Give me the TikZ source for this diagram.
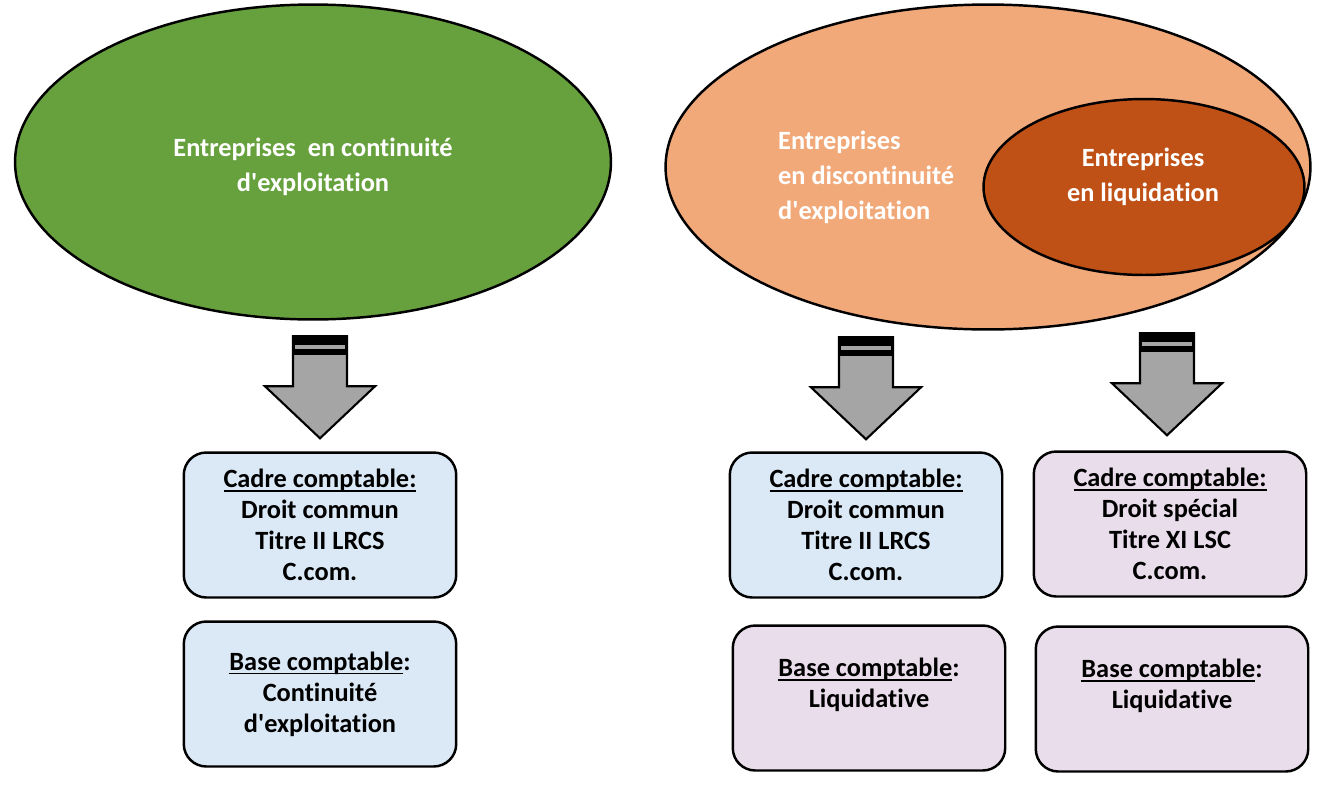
\documentclass[tikz,border=0pt]{standalone}
\usepackage{fontspec}
\setmainfont{Carlito}[Ligatures={TeX,NoCommon}]
\usepackage{tikz}
\usetikzlibrary{shapes.geometric,positioning}
\definecolor{vertcont}{HTML}{67A13E}
\definecolor{orangeclair}{HTML}{F1A97A}
\definecolor{orangefonce}{HTML}{BF5016}
\definecolor{bleuclair}{HTML}{DBE8F5}
\definecolor{roseclair}{HTML}{EADDEB}
\definecolor{grisfleche}{HTML}{A5A5A5}
\newcommand\souligne[1]{\setbox0\hbox{#1}\rlap{\rule[-2.2pt]{\wd0}{0.8pt}}\box0}
\newcommand\apos{\textquotesingle}
\tikzset{
    myellipse/.style={ellipse, draw=black, line width=1.4pt, inner sep=0pt},
    mytext/.style={text=white, font=\fontsize{15}{20}\selectfont\bfseries},
    mybox/.style={rectangle, rounded corners=0.45cm, draw=black, line width=1.4pt,
      minimum width=5.45cm, minimum height=2.9cm, align=center,
      font=\fontsize{15}{17.6}\selectfont\bfseries},
    bigarrow/.pic={
      \filldraw[fill=grisfleche, line width=1.2pt, line join=miter]
        (-27,-102) -- (-27,-52) -- (-55,-52) -- (0,0) -- (55,-52) -- (27,-52) -- (27,-102) -- cycle;
      \fill[black] (-27.5,-102.5) rectangle (27.5,-83);
      \fill[grisfleche] (-25,-93) rectangle (25,-89);
    }
}

\begin{document}
\begin{tikzpicture}[x=0.02cm, y=-0.02cm]
    \useasboundingbox (0,0) rectangle (1325,795);
    % ellipses
    \node[myellipse, fill=vertcont, minimum width=11.92cm, minimum height=6.3cm] (continuite) at (313,162) {};
    \node[mytext, align=center] (txtcont) at (313,167)
      {Entreprises\ \ en continuité\\d\apos exploitation};
    \node[myellipse, fill=orangeclair, minimum width=12.9cm, minimum height=6.5cm] (discont) at (988,167) {};
    \node[mytext, align=left, anchor=west] (txtdisc) at (772,177)
      {Entreprises\\en discontinuité\\d\apos exploitation};
    \node[myellipse, fill=orangefonce, minimum width=6.42cm, minimum height=3.52cm] (liquid) at (1144,187) {};
    \node[mytext, align=center] (txtliq) at (1143,177)
      {Entreprises\\en liquidation};
    % cadres comptables
    \node[mybox, fill=bleuclair] (cadreL) at (320,525)
      {\souligne{Cadre comptable:}\\Droit commun\\Titre II LRCS\\C.com.};
    \node[mybox, fill=bleuclair] (cadreM) at (866,525)
      {\souligne{Cadre comptable:}\\Droit commun\\Titre II LRCS\\C.com.};
    \node[mybox, fill=roseclair] (cadreR) at (1170,524)
      {\souligne{Cadre comptable:}\\Droit spécial\\Titre XI LSC\\C.com.};
    % bases comptables
    \node[mybox, fill=bleuclair] (baseL) at (320,694)
      {\souligne{Base comptable}:\\Continuité\\d\apos exploitation};
    \node[mybox, fill=roseclair] (baseM) at (869,698)
      {\souligne{Base comptable}:\\Liquidative\\[-6pt]\strut};
    \node[mybox, fill=roseclair] (baseR) at (1172,699)
      {\souligne{Base comptable}:\\Liquidative\\[-6pt]\strut};
    % fleches
    \pic at ([yshift=0.26cm]cadreL.north) {bigarrow};
    \pic at ([yshift=0.24cm]cadreM.north) {bigarrow};
    \pic at ([xshift=-0.06cm, yshift=0.3cm]cadreR.north) {bigarrow};
\end{tikzpicture}
\end{document}
